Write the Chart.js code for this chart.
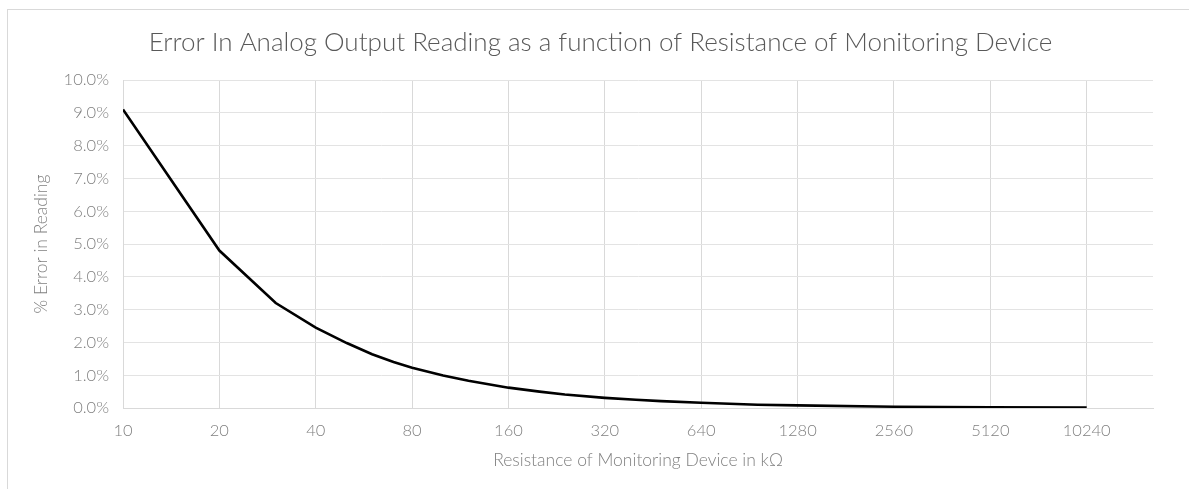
<!DOCTYPE html>
<html>
<head>
<meta charset="utf-8">
<script src="https://cdn.jsdelivr.net/npm/chart.js@4/dist/chart.umd.min.js"></script>
<style>
  html, body { margin: 0; padding: 0; background: #fff; }
  #wrap { position: relative; width: 1189px; height: 489px; }
  #frame { position: absolute; left: 7px; top: 9px; right: -2px; bottom: -2px; border: 1px solid #d9d9d9; }
  canvas { position: absolute; left: 0; top: 0; }
</style>
</head>
<body>
<div id="wrap">
  <div id="frame"></div>
  <canvas id="errChart" width="1189" height="489"></canvas>
</div>
<script>
// resistance in kOhm and error in %
const resistance = [10, 20, 30, 40, 50, 60, 70, 80, 100, 120, 160, 200, 240, 320, 400, 480, 640, 960, 1280, 2560, 5120, 10240];
const errorPct = [9.1, 4.8, 3.2, 2.45, 1.98, 1.64, 1.4, 1.23, 0.99, 0.83, 0.62, 0.5, 0.41, 0.31, 0.25, 0.21, 0.16, 0.1, 0.08, 0.04, 0.02, 0.01];
const xTicks = [10, 20, 40, 80, 160, 320, 640, 1280, 2560, 5120, 10240];

const grey = "#808080";
const font = "Lato, 'Liberation Sans', sans-serif";

new Chart("errChart", {
  type: "scatter",
  data: {
    datasets: [{
      data: resistance.map((r, i) => ({ x: r, y: errorPct[i] })),
      showLine: true,
      borderColor: "#000",
      borderWidth: 2.6,
      pointRadius: 0,
      tension: 0
    }]
  },
  options: {
    responsive: false,
    animation: false,
    layout: { padding: { left: 12, right: 0, top: 0, bottom: 0 } },
    plugins: {
      legend: { display: false },
      tooltip: { enabled: false },
      title: {
        display: true,
        text: "Error In Analog Output Reading as a function of Resistance of Monitoring Device",
        color: "#595959",
        font: { family: font, size: 26, weight: 300, lineHeight: 1 },
        padding: { top: 30, bottom: 24 }
      }
    },
    scales: {
      x: {
        type: "logarithmic",
        min: 10,
        max: 16500,
        afterBuildTicks: s => { s.ticks = xTicks.map(v => ({ value: v })); },
        afterFit: s => { s.height = 81; },
        ticks: {
          color: grey,
          font: { family: font, size: 16.5, weight: 300 },
          padding: 13,
          maxRotation: 0,
          autoSkip: false,
          callback: v => String(v)
        },
        grid: { color: "#d9d9d9", drawTicks: false },
        border: { color: "#d9d9d9" },
        title: {
          display: true,
          text: "Resistance of Monitoring Device in kΩ",
          color: grey,
          font: { family: font, size: 17.5, weight: 300 },
          padding: { top: 18, bottom: 18 }
        }
      },
      y: {
        min: 0,
        max: 10,
        afterFit: s => { s.width = 111; },
        ticks: {
          stepSize: 1,
          color: grey,
          font: { family: font, size: 16.5, weight: 300 },
          padding: 14,
          callback: v => v.toFixed(1) + "%"
        },
        grid: { color: "#e3e3e3", drawTicks: false },
        border: { color: "#d9d9d9" },
        title: {
          display: true,
          text: "% Error in Reading",
          color: grey,
          font: { family: font, size: 17.5, weight: 300 },
          padding: { top: 19, bottom: 19 }
        }
      },
      // empty right-hand axis that only reserves the gap after the plot
      y2: {
        position: "right",
        display: true,
        afterFit: s => { s.width = 36; },
        grid: { display: false },
        border: { display: false },
        ticks: { display: false }
      }
    }
  }
});
</script>
</body>
</html>
